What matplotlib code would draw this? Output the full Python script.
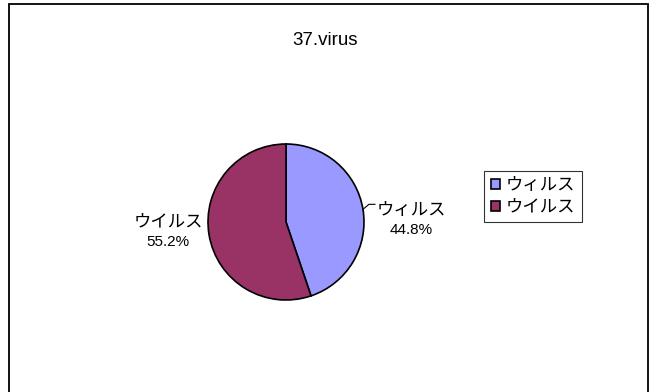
import numpy as np
import matplotlib
matplotlib.use('Agg')
import matplotlib.pyplot as plt
import matplotlib.patches as patches

# data
title = '37.virus'
labels = ['ウィルス', 'ウイルス']
values = [44.8, 55.2]
colors = ['#9999FF', '#993366']

plt.rcParams['font.family'] = ['Liberation Sans', 'Noto Sans CJK JP', 'DejaVu Sans']

W, H = 653, 392
fig = plt.figure(figsize=(W / 100, H / 100), dpi=100)
ax = fig.add_axes([0, 0, 1, 1])

# outer chart frame
fig.patches.append(patches.Rectangle((9 / W, -0.05), 639 / W, 1.05 - 4 / H,
                                     transform=fig.transFigure, fill=False,
                                     ec='black', lw=1.3))

cx, cy, r = 286, H - 222, 78
wedges, _ = ax.pie(values, colors=colors, startangle=90, counterclock=False,
                   center=(cx, cy), radius=r, frame=True,
                   wedgeprops=dict(edgecolor='black', linewidth=1.2))
ax.set_xlim(0, W)
ax.set_ylim(0, H)
ax.set_aspect('equal')
ax.axis('off')

ax.text(325, H - 40, title, ha='center', va='center', fontsize=13.5)

# data labels: name on top, percentage below
for w, lab, v in zip(wedges, labels, values):
    mid = np.deg2rad((w.theta1 + w.theta2) / 2)
    if np.cos(mid) > 0:
        ex, ey = cx + r * np.cos(mid), cy + r * np.sin(mid)
        ax.plot([ex, ex + 6, ex + 12], [ey, ey + 5, ey + 5], color='black', lw=0.8)
        tx, ty = 411, H - 210
    else:
        tx, ty = 168, H - 222
    ax.text(tx, ty, lab, ha='center', va='center', fontsize=12.5)
    ax.text(tx, ty - 20, f'{v:.1f}%', ha='center', va='center', fontsize=11)

leg = ax.legend(wedges, labels, loc='upper left',
                bbox_to_anchor=(484 / W, 1 - 171 / H), bbox_transform=fig.transFigure,
                fontsize=12.5, frameon=True, fancybox=False, borderaxespad=0,
                handlelength=0.55, handleheight=0.55, handletextpad=0.3,
                borderpad=0.4, labelspacing=0.4)
leg.get_frame().set_edgecolor('black')
leg.get_frame().set_linewidth(0.8)

plt.savefig('out.png', dpi=100)
